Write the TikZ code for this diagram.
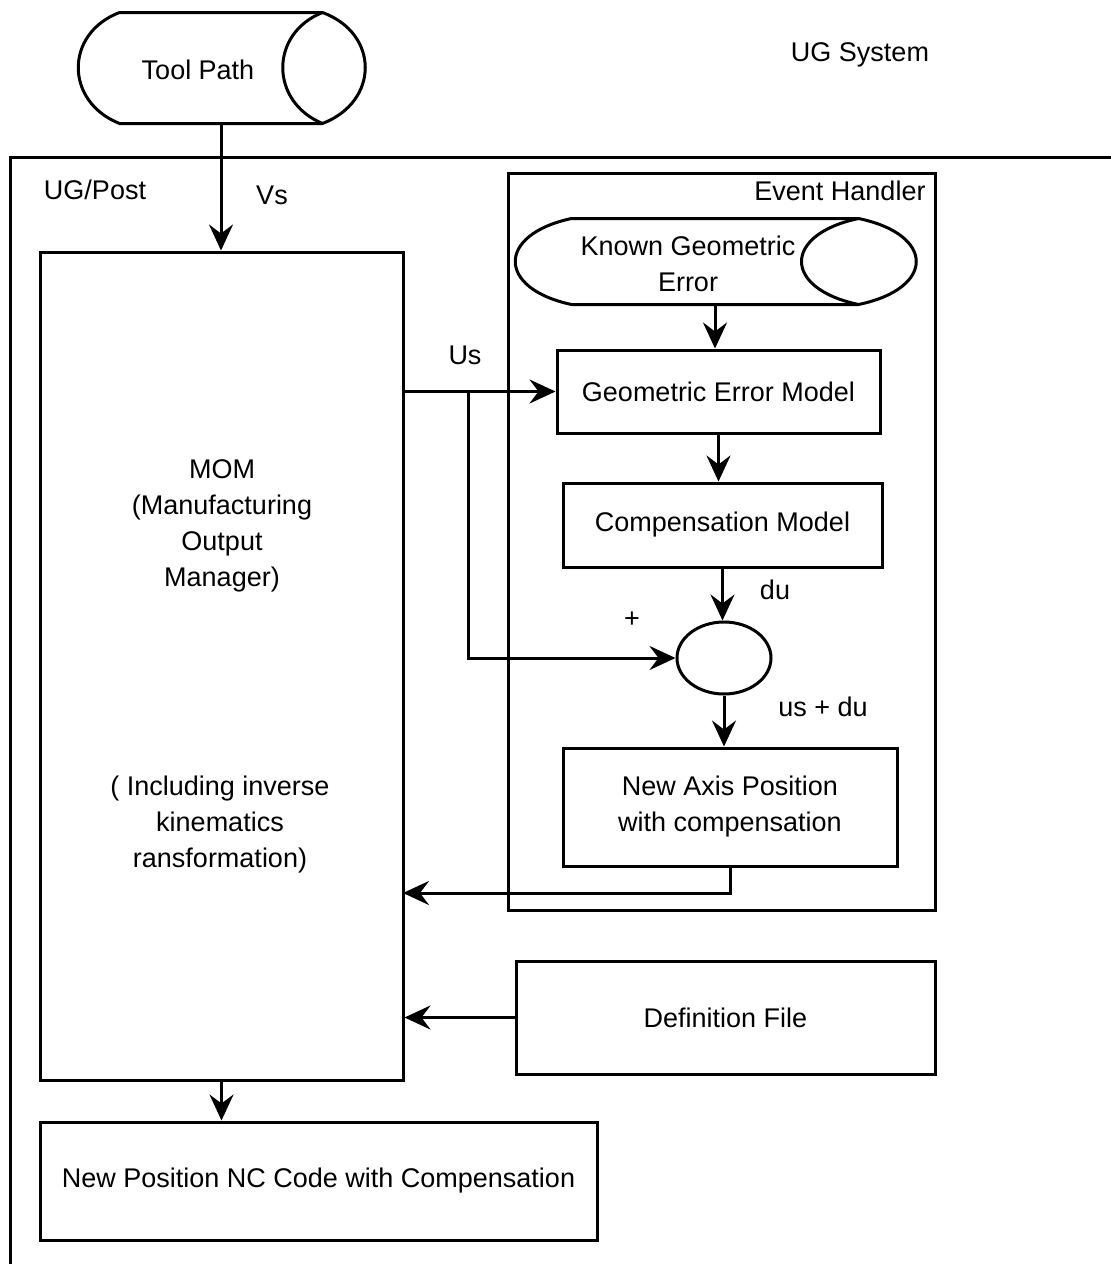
\documentclass[tikz,border=0pt]{standalone}
\usepackage{fontspec}
\setmainfont{Liberation Sans}
\usetikzlibrary{arrows.meta,shapes,positioning}

\begin{document}
\begin{tikzpicture}[->,>={Stealth[length=26pt,width=24pt,inset=9pt]},x=1pt,y=-1pt,line width=3pt,font=\fontsize{27}{36}\selectfont]
        \tikzstyle{block}=[draw, rectangle, inner sep=0pt, align=center]
        \tikzstyle{store}=[inner sep=0pt]
        \tikzstyle{lbl}=[inner sep=0pt, align=center]

        \useasboundingbox (0,0) rectangle (1111,1264);

        % outer UG/Post frame
        \draw[-] (1111,157) -- (10,157) -- (10,1264);

        \node[store, minimum width=200pt, minimum height=108pt] (toolpath) at (221,68)  {};
        \node[block, minimum width=363pt, minimum height=828pt]  (mom)      at (221.5,666) {};
        \node[block, minimum width=427pt, minimum height=737pt]  (handler)  at (721.5,541.5) {};
        \node[store, minimum width=284pt, minimum height=83pt]  (kge)      at (715,261.5) {};
        \node[block, minimum width=323pt, minimum height=83pt]  (gem)      at (718.5,391.5) {Geometric Error Model};
        \node[block, minimum width=319pt, minimum height=84pt]  (cm)       at (722.5,525) {Compensation Model};
        \node[draw, ellipse, inner sep=0pt, minimum width=94pt, minimum height=72pt] (sum) at (724,658) {};
        \node[block, minimum width=334pt, minimum height=118pt] (nap)      at (730,807) {New Axis Position\\with compensation};
        \node[block, minimum width=419pt, minimum height=113pt] (df)       at (725.5,1017.5) {Definition File};
        \node[block, minimum width=557pt, minimum height=118pt] (nc)       at (318.5,1181) {New Position NC Code with Compensation};

        % stored data shapes
        \draw[-] (toolpath.north west) -- (toolpath.north east)
              .. controls +(57,21) and +(57,-22) .. (toolpath.south east)
              -- (toolpath.south west)
              .. controls +(-55,-22) and +(-55,21) .. cycle;
        \draw[-] (toolpath.north east) .. controls +(-53,21) and +(-53,-22) .. (toolpath.south east);
        \draw[-] (kge.north west) -- (kge.north east)
              .. controls +(77,16) and +(77,-16) .. (kge.south east)
              -- (kge.south west)
              .. controls +(-75,-16) and +(-75,16) .. cycle;
        \draw[-] (kge.north east) .. controls +(-76,16) and +(-76,-16) .. (kge.south east);

        % texts
        \node[lbl] at (198,70)   {Tool Path};
        \node[lbl] at (688,264)  {Known Geometric\\Error};
        \node[lbl] at (222,526)  {MOM\\(Manufacturing\\Output\\Manager)};
        \node[lbl] at (220,825)  {( Including inverse\\kinematics\\ransformation)};
        \node[lbl] at (860,55)   {UG System};
        \node[lbl] at (95,190)   {UG/Post};
        \node[lbl] at (272,195)  {Vs};
        \node[lbl] at (840,191)  {Event Handler};
        \node[lbl] at (465,355)  {Us};
        \node[lbl] at (775,590)  {du};
        \node[lbl] at (632,620)  {+};
        \node[lbl] at (823,707)  {us + du};

        \coordinate (split) at (468,391.5);
        \coordinate (back)  at (403,893);

        \path (toolpath.south) edge (toolpath.south |- mom.north)
              (kge.south)      edge (kge.south |- gem.north)
              (gem.south)      edge (gem.south |- cm.north)
              (cm.south)       edge (cm.south |- sum.north)
              (sum.south)      edge (sum.south |- nap.north)
              (df.west)        edge (df.west -| mom.east)
              (mom.south)      edge (mom.south |- nc.north);

        \draw (mom.east |- gem) -- (gem.west);
        \draw (split) |- (sum.west);
        \draw (nap.south) |- (back);
\end{tikzpicture}
\end{document}
